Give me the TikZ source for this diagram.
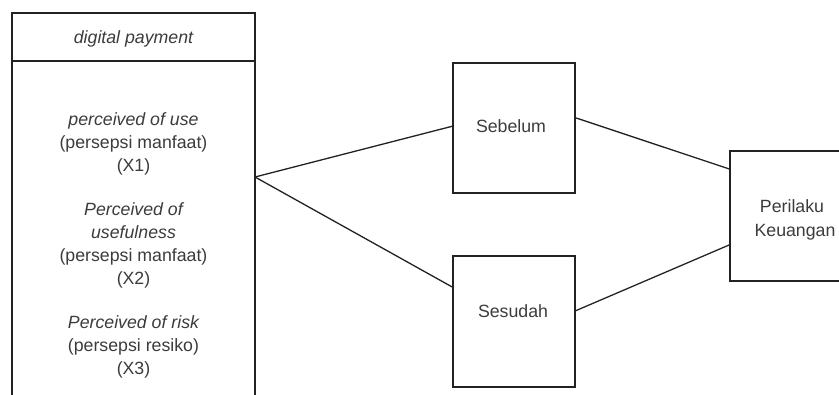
\documentclass[tikz,border=0pt]{standalone}
\usepackage{fontspec}
\setmainfont{Liberation Sans}
\usetikzlibrary{calc}
\definecolor{ink}{RGB}{34,34,34}
\definecolor{txtc}{RGB}{60,60,60}
\tikzset{
  box/.style={draw=ink, line width=1.4bp, fill=white, inner sep=0pt, outer sep=0pt},
  lbl/.style={text=txtc, font=\fontsize{17.8}{23}\selectfont, inner sep=0pt, anchor=base},
  link/.style={draw=ink, line width=1.3bp}
}
\begin{document}
\begin{tikzpicture}[x=1bp, y=-1bp]
  \useasboundingbox (0,0) rectangle (839,394);
  \clip (0,0) rectangle (839,394);
  \fill[white] (0,0) rectangle (839,394);

  % left container: header and body (body runs past the lower edge)
  \node[box, minimum width=243bp, minimum height=48bp] (head) at (133.5,37) {};
  \node[lbl] (headtxt) at (133.5,43) {\itshape digital payment};
  \node[box, minimum width=243bp, minimum height=360bp, anchor=north] (body) at (head.south) {};

  % body text, one line per node, set on its baseline
  \node[lbl] (a1) at (133.5,125) {\itshape perceived of use};
  \node[lbl] (a2) at (133.5,148) {(persepsi manfaat)};
  \node[lbl] (a3) at (133.5,171) {(X1)};
  \node[lbl] (b1) at (133.5,215) {\itshape Perceived of};
  \node[lbl] (b2) at (133.5,238) {\itshape usefulness};
  \node[lbl] (b3) at (133.5,261) {(persepsi manfaat)};
  \node[lbl] (b4) at (133.5,284) {(X2)};
  \node[lbl] (c1) at (133.5,328) {\itshape Perceived of risk};
  \node[lbl] (c2) at (133.5,351) {(persepsi resiko)};
  \node[lbl] (c3) at (133.5,374) {(X3)};
  \coordinate (hub) at (255,177);

  % middle boxes
  \node[box, minimum width=122bp, minimum height=130bp] (sebelum) at (514,128) {};
  \node[lbl] (sebelumtxt) at (511,132) {Sebelum};
  \node[box, minimum width=122bp, minimum height=131bp] (sesudah) at (514,321.5) {};
  \node[lbl] (sesudahtxt) at (513,317) {Sesudah};

  % right box (extends past the right edge)
  \node[box, minimum width=122bp, minimum height=130bp] (perilaku) at (791,216) {};
  \node[lbl] (per1) at (792,212) {Perilaku};
  \node[lbl] (per2) at (795,236) {Keuangan};

  % connectors
  \draw[link] (hub) -- ($(sebelum.north west)!0.485!(sebelum.south west)$);
  \draw[link] (hub) -- ($(sesudah.north west)!0.24!(sesudah.south west)$);
  \draw[link] ($(sebelum.north east)!0.42!(sebelum.south east)$) -- ($(perilaku.north west)!0.14!(perilaku.south west)$);
  \draw[link] ($(sesudah.north east)!0.42!(sesudah.south east)$) -- ($(perilaku.north west)!0.72!(perilaku.south west)$);
\end{tikzpicture}
\end{document}
